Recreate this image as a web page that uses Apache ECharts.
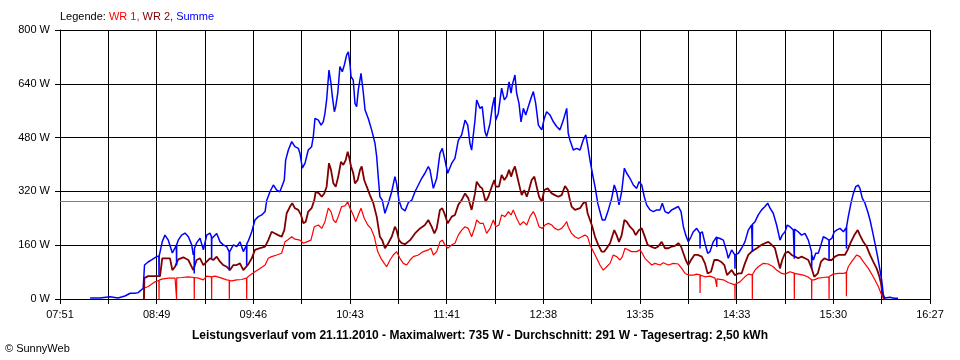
<!DOCTYPE html>
<html>
<head>
<meta charset="utf-8">
<script src="https://cdn.jsdelivr.net/npm/echarts@6/dist/echarts.min.js"></script>
<style>
html,body{margin:0;padding:0;background:#fff;}
#chart{width:960px;height:360px;}
</style>
</head>
<body>
<div id="chart"></div>
<script>
// ---- data (time = minutes after midnight, value = W) ----
const zeitLabels = ['07:51','08:49','09:46','10:43','11:41','12:38','13:35','14:33','15:30','16:27'];
const startSek = 28300;   // 07:51:40
const endeSek = 59260;    // 16:27:40
const durchschnitt = 291;
const maximalwert = 735;
const tagesertrag = '2,50';
const datum = '21.11.2010';

const wr1 = [[521.3,0],[521.3,32],[524.0,37],[528.0,51],[530.3,55],[530.4,0],[530.5,56],[532.0,59],[535.9,62],[539.9,62],[540.7,63],[540.8,0],[540.9,63],[543.8,64],[547.8,66],[551.2,64],[551.3,0],[551.4,64],[553.7,62],[556.7,57],[558.7,68],[561.5,66],[561.6,0],[561.7,66],[563.6,68],[567.6,62],[570.5,57],[572.0,56],[572.1,0],[572.2,55],[573.5,54],[576.5,57],[579.4,58],[582.3,62],[582.4,0],[582.5,63],[584.3,71],[587.3,81],[590.3,91],[593.3,101],[595.2,121],[597.2,126],[600.2,131],[603.1,136],[605.1,170],[607.1,177],[609.1,185],[611.0,178],[614.0,175],[616.0,166],[618.0,170],[620.5,175],[622.5,215],[624.9,220],[626.9,210],[628.8,230],[630.8,270],[632.4,260],[633.8,235],[635.2,227],[636.7,245],[638.7,275],[640.7,277],[642.3,289],[643.7,270],[645.6,250],[647.0,230],[648.6,250],[650.2,270],[652.1,240],[654.2,220],[656.1,210],[658.1,185],[660.1,141],[662.0,121],[664.0,106],[665.4,96],[667.4,116],[669.3,131],[671.3,141],[673.3,121],[675.3,106],[677.3,101],[679.3,116],[681.2,126],[684.2,131],[687.1,141],[690.1,146],[691.7,151],[693.1,131],[695.1,141],[697.0,170],[698.4,175],[700.0,161],[701.6,151],[704.0,161],[705.9,166],[707.9,190],[709.9,205],[711.9,215],[713.8,210],[715.8,185],[717.8,215],[718.8,235],[720.8,225],[722.7,225],[724.7,195],[726.7,210],[728.7,235],[730.1,215],[732.0,220],[733.6,250],[735.6,245],[737.6,260],[739.2,250],[740.5,265],[742.5,240],[744.5,220],[746.5,230],[748.5,220],[750.4,245],[752.4,260],[753.8,245],[755.8,215],[757.7,210],[759.3,220],[761.3,225],[763.3,220],[765.2,210],[767.2,205],[769.2,210],[770.8,220],[772.2,230],[773.1,215],[775.1,195],[777.1,185],[779.1,180],[781.1,185],[783.0,190],[784.6,185],[786.0,161],[788.0,141],[790.0,121],[791.9,101],[793.9,86],[795.9,96],[797.9,106],[799.8,131],[801.8,126],[803.8,116],[805.2,126],[806.8,151],[808.7,146],[810.7,141],[813.7,141],[815.7,146],[817.0,136],[818.6,121],[820.6,111],[822.6,101],[824.6,106],[827.5,101],[829.5,108],[832.5,101],[835.4,106],[838.4,104],[840.4,91],[842.4,76],[844.7,71],[847.3,71],[849.3,74],[851.2,72],[851.3,18],[851.4,71],[854.2,66],[857.2,68],[860.2,62],[861.1,61],[861.2,36],[861.3,60],[862.1,59],[865.1,57],[868.0,49],[869.0,47],[871.9,42],[872.0,0],[872.1,44],[874.9,51],[877.9,66],[879.9,74],[882.2,72],[882.3,0],[882.4,73],[883.9,86],[885.8,96],[888.8,106],[891.8,104],[894.7,96],[896.7,86],[899.7,76],[901.7,74],[904.6,81],[907.1,77],[907.2,0],[907.3,76],[909.5,74],[912.5,71],[915.1,66],[917.4,57],[917.5,0],[917.6,57],[919.0,57],[921.4,62],[924.4,64],[927.7,66],[927.8,0],[927.9,67],[930.3,74],[933.3,76],[936.3,76],[938.0,79],[938.1,8],[938.2,80],[939.2,96],[941.2,111],[944.2,131],[946.1,126],[948.1,111],[951.1,91],[954.0,66],[957.0,37],[959.0,12],[960.1,0]];

const wr2 = [[521.5,0],[521.7,62],[523.9,68],[528.0,68],[531.0,68],[532.3,121],[533.9,121],[536.9,121],[538.3,86],[539.9,96],[541.8,118],[544.8,124],[547.8,116],[550.7,86],[552.7,116],[554.7,121],[556.7,101],[558.7,111],[560.6,121],[562.6,116],[564.6,126],[566.6,111],[568.5,101],[570.5,96],[572.5,86],[574.5,101],[576.5,101],[578.4,106],[580.4,86],[583.3,103],[585.4,121],[587.3,146],[590.3,151],[593.3,156],[595.2,175],[597.2,200],[599.2,195],[601.1,190],[603.1,185],[604.7,205],[606.1,255],[608.1,275],[609.4,285],[611.0,270],[613.0,265],[614.6,250],[616.0,225],[617.4,230],[618.9,260],[620.9,270],[622.5,294],[623.3,319],[625.3,314],[626.9,304],[628.4,314],[629.8,334],[631.2,404],[632.4,384],[633.8,344],[635.2,334],[636.7,364],[638.3,408],[639.7,399],[641.1,413],[642.3,438],[643.1,423],[644.3,394],[645.6,374],[646.6,344],[648.2,354],[649.6,384],[650.6,394],[652.1,354],[653.6,334],[655.5,309],[657.5,285],[659.5,245],[661.4,185],[662.8,175],[664.4,151],[666.4,166],[668.4,185],[670.3,215],[671.3,205],[672.7,175],[674.3,166],[676.3,163],[679.3,175],[682.2,195],[685.2,210],[688.1,220],[690.1,235],[692.1,215],[693.7,195],[695.1,210],[697.0,265],[698.4,270],[700.0,250],[701.6,225],[704.0,245],[705.9,250],[707.9,280],[709.9,294],[711.9,314],[713.8,300],[715.8,265],[717.8,314],[718.8,349],[720.8,334],[722.1,329],[724.1,289],[725.7,304],[728.1,339],[729.3,354],[730.1,334],[732.0,334],[733.6,369],[735.2,354],[736.6,364],[738.0,384],[739.2,364],[740.5,384],[741.5,394],[743.1,359],[744.5,329],[745.5,309],[747.0,324],[748.5,304],[749.8,324],[751.4,354],[753.0,364],[754.4,334],[755.8,304],[757.4,289],[758.9,324],[760.9,329],[763.3,314],[765.2,309],[767.2,304],[769.2,309],[771.2,336],[772.8,324],[774.1,294],[775.1,275],[777.1,265],[780.1,270],[782.0,285],[783.5,289],[784.6,255],[786.0,235],[787.4,215],[789.0,185],[790.9,161],[792.9,141],[794.5,141],[795.9,151],[797.9,166],[800.4,205],[801.8,190],[803.2,170],[804.8,190],[806.4,235],[807.8,230],[809.7,215],[811.7,205],[813.1,190],[815.1,205],[816.7,210],[818.2,190],[820.2,161],[822.2,156],[824.6,151],[826.5,156],[828.5,170],[830.5,151],[832.5,151],[834.5,156],[836.4,158],[838.4,166],[840.0,156],[841.4,136],[842.8,116],[844.3,101],[845.9,116],[847.9,131],[849.9,131],[852.3,126],[854.2,106],[855.8,76],[857.8,81],[859.7,116],[861.8,116],[863.7,111],[865.7,101],[867.3,71],[868.4,66],[870.0,86],[872.0,71],[874.0,76],[875.9,76],[877.9,106],[879.9,131],[881.9,141],[884.9,151],[887.8,161],[889.8,166],[891.8,170],[893.8,161],[895.7,151],[897.7,111],[898.7,91],[900.0,116],[901.7,136],[903.6,141],[905.6,131],[907.6,126],[909.5,121],[911.5,126],[913.5,121],[915.5,116],[917.5,91],[919.0,66],[921.1,76],[923.0,111],[925.0,121],[927.4,116],[929.4,116],[931.3,126],[933.3,131],[935.3,131],[937.2,131],[938.8,146],[940.8,170],[942.8,190],[944.8,205],[946.1,190],[948.1,170],[950.1,156],[952.1,131],[954.0,111],[956.0,91],[957.4,71],[958.6,47],[959.4,17],[960.5,3],[960.9,0]];

const summe = [[489.5,3],[495.4,3],[501.3,7],[506.1,3],[510.2,9],[513.3,17],[516.2,17],[518.0,19],[521.0,32],[521.5,32],[521.8,101],[523.9,110],[526.2,117],[529.0,126],[530.3,128],[530.4,70],[530.5,128],[531.0,131],[532.3,170],[533.9,190],[535.9,175],[538.3,137],[539.9,152],[540.7,160],[540.8,100],[540.9,162],[541.8,175],[543.8,190],[545.8,196],[547.8,185],[549.8,161],[550.7,131],[551.2,140],[551.3,76],[551.4,150],[552.7,167],[554.7,181],[556.7,146],[558.7,190],[560.6,196],[561.5,185],[561.6,120],[561.7,180],[562.6,175],[564.6,195],[566.6,170],[568.5,161],[570.5,156],[572.0,140],[572.1,85],[572.2,140],[572.5,137],[574.5,161],[576.5,156],[578.4,170],[580.4,141],[582.3,160],[582.4,100],[582.5,165],[583.3,172],[585.4,200],[587.3,235],[589.3,245],[591.3,250],[593.3,260],[594.3,294],[596.2,319],[598.2,339],[600.2,324],[602.1,319],[603.1,314],[604.7,354],[605.5,413],[607.1,443],[609.1,468],[611.0,453],[613.0,448],[614.0,433],[615.4,389],[617.0,404],[618.9,443],[620.9,453],[621.9,483],[622.9,537],[624.9,532],[626.5,517],[627.8,527],[628.8,552],[629.8,592],[631.2,681],[632.4,641],[633.2,602],[634.4,557],[635.2,572],[636.4,612],[637.7,691],[639.1,676],[640.3,696],[641.7,726],[642.7,735],[643.7,696],[644.3,661],[645.6,651],[646.6,582],[647.6,572],[648.6,622],[650.2,671],[651.6,612],[652.6,562],[654.5,537],[656.5,503],[658.5,463],[659.5,423],[660.4,364],[661.4,304],[662.8,294],[664.4,255],[666.4,285],[668.4,319],[670.3,364],[671.3,344],[672.7,294],[674.3,270],[676.3,262],[678.3,287],[680.3,294],[682.2,319],[684.2,339],[686.2,359],[688.1,374],[690.1,394],[691.1,384],[693.1,329],[695.1,359],[697.0,433],[698.4,448],[700.0,413],[701.6,374],[704.0,404],[705.9,418],[707.9,472],[709.9,488],[711.9,532],[713.5,517],[714.8,463],[715.8,443],[717.8,532],[718.8,592],[720.8,567],[722.1,572],[723.7,498],[724.7,483],[726.7,522],[728.1,572],[729.3,600],[730.1,532],[731.6,552],[733.6,627],[735.2,592],[736.6,602],[738.0,646],[739.2,612],[739.9,636],[741.5,666],[742.5,612],[743.9,582],[745.1,527],[746.5,567],[747.9,547],[749.4,572],[751.0,597],[752.4,617],[753.8,582],[755.4,517],[757.4,503],[758.9,537],[760.3,557],[762.3,547],[764.3,527],[766.2,513],[768.2,503],[770.2,532],[772.2,567],[773.1,493],[774.1,473],[776.1,443],[778.1,448],[780.1,443],[782.0,473],[783.5,488],[784.6,458],[786.0,413],[787.4,374],[789.0,334],[790.6,285],[791.9,260],[793.3,235],[794.9,235],[796.9,265],[798.9,300],[800.4,339],[801.8,319],[803.2,280],[804.8,319],[806.4,389],[807.8,374],[809.7,359],[811.7,339],[813.7,329],[815.1,349],[816.7,339],[818.2,304],[819.6,280],[821.6,265],[823.6,260],[825.6,265],[827.5,265],[828.9,285],[830.5,260],[832.5,255],[834.5,265],[836.4,270],[838.4,275],[840.0,260],[841.4,215],[842.8,190],[844.3,170],[845.9,185],[847.3,200],[849.3,210],[851.2,195],[851.3,150],[851.4,195],[852.6,200],[854.2,166],[855.8,136],[857.2,141],[859.1,170],[861.1,185],[861.2,155],[861.3,183],[863.1,180],[865.1,175],[867.1,141],[868.0,121],[870.0,146],[871.9,131],[872.0,90],[872.1,131],[874.0,136],[875.9,151],[877.9,170],[879.9,205],[881.9,220],[882.2,222],[882.3,140],[882.4,222],[883.9,230],[885.8,250],[887.8,265],[889.8,275],[891.4,285],[892.8,270],[894.7,255],[896.7,220],[898.7,175],[900.0,190],[901.7,200],[903.0,220],[904.6,215],[906.6,205],[907.1,208],[907.2,120],[907.3,208],[908.0,210],[909.5,200],[911.5,190],[913.5,195],[915.5,175],[917.1,146],[917.4,140],[917.5,90],[917.6,130],[918.5,116],[919.9,136],[921.4,136],[923.0,161],[924.4,185],[926.4,180],[927.7,175],[927.8,115],[927.9,175],[929.4,180],[930.9,200],[932.3,205],[934.3,210],[936.3,200],[938.0,212],[938.1,150],[938.2,215],[939.2,245],[940.8,285],[942.2,314],[943.6,334],[945.1,339],[946.1,329],[947.5,300],[949.1,285],[950.7,260],[952.1,235],[953.4,205],[955.0,166],[956.6,126],[958.0,86],[959.0,57],[960.0,12],[960.9,3],[963.9,5],[966.3,2],[968.7,2]];

// ---- chart ----
const toAxis = arr => arr.map(p => [p[0] * 60 - startSek, p[1]]);
const FONT = 'Liberation Sans, Arial, sans-serif';
const chart = echarts.init(document.getElementById('chart'), null, {renderer: 'canvas'});

chart.setOption({
  animation: false,
  backgroundColor: '#ffffff',
  textStyle: {fontFamily: FONT},
  title: [
    {
      text: '{k|Legende: }{a|WR 1, }{b|WR 2, }{c|Summe}',
      left: 60, top: 11, padding: 0,
      textStyle: {
        fontSize: 11, fontWeight: 'normal',
        rich: {
          k: {color: '#000000', fontSize: 11, fontFamily: FONT},
          a: {color: '#ff0000', fontSize: 11, fontFamily: FONT},
          b: {color: '#800000', fontSize: 11, fontFamily: FONT},
          c: {color: '#0000ff', fontSize: 11, fontFamily: FONT}
        }
      }
    },
    {
      text: 'Leistungsverlauf vom ' + datum + ' - Maximalwert: ' + maximalwert + ' W - Durchschnitt: ' + durchschnitt + ' W - Tagesertrag: ' + tagesertrag + ' kWh',
      left: 'center', top: 330, padding: 0,
      textStyle: {fontSize: 12, fontWeight: 'bold', color: '#000000', fontFamily: FONT}
    },
    {
      text: '© SunnyWeb',
      left: 5, top: 343, padding: 0,
      textStyle: {fontSize: 11, fontWeight: 'normal', color: '#000000', fontFamily: FONT}
    }
  ],
  grid: {left: 60, right: 30, top: 30, bottom: 61, containLabel: false},
  xAxis: {
    type: 'value',
    min: 0, max: endeSek - startSek, interval: 1720,
    axisLine: {show: true, lineStyle: {color: '#000000', width: 1}},
    axisTick: {show: true, length: 5, lineStyle: {color: '#000000', width: 1}},
    splitLine: {show: true, lineStyle: {color: '#000000', width: 1, type: 'solid'}},
    axisLabel: {
      margin: 10, color: '#000000', fontSize: 11, fontFamily: FONT,
      showMinLabel: true, showMaxLabel: true,
      formatter: function (v) {
        const k = Math.round(v / 1720);
        return k % 2 === 0 ? (zeitLabels[k / 2] || '') : '';
      }
    }
  },
  yAxis: {
    type: 'value',
    min: 0, max: 800, interval: 160,
    axisLine: {show: true, lineStyle: {color: '#000000', width: 1}},
    axisTick: {show: true, length: 5, lineStyle: {color: '#000000', width: 1}},
    splitLine: {show: true, lineStyle: {color: '#000000', width: 1, type: 'solid'}},
    axisLabel: {
      margin: 10, color: '#000000', fontSize: 11, fontFamily: FONT,
      formatter: v => v + ' W'
    }
  },
  series: [
    {
      name: 'WR 1', type: 'line', data: toAxis(wr1),
      showSymbol: false, symbol: 'none', sampling: null,
      lineStyle: {color: '#ff0000', width: 1.2},
      itemStyle: {color: '#ff0000'},
      markLine: {
        silent: true, symbol: 'none',
        label: {show: false},
        lineStyle: {color: '#808080', width: 1, type: 'solid'},
        data: [{yAxis: durchschnitt}]
      }
    },
    {
      name: 'WR 2', type: 'line', data: toAxis(wr2),
      showSymbol: false, symbol: 'none',
      lineStyle: {color: '#800000', width: 1.8},
      itemStyle: {color: '#800000'}
    },
    {
      name: 'Summe', type: 'line', data: toAxis(summe),
      showSymbol: false, symbol: 'none',
      lineStyle: {color: '#0000ff', width: 1.5},
      itemStyle: {color: '#0000ff'}
    }
  ]
});
</script>
</body>
</html>
